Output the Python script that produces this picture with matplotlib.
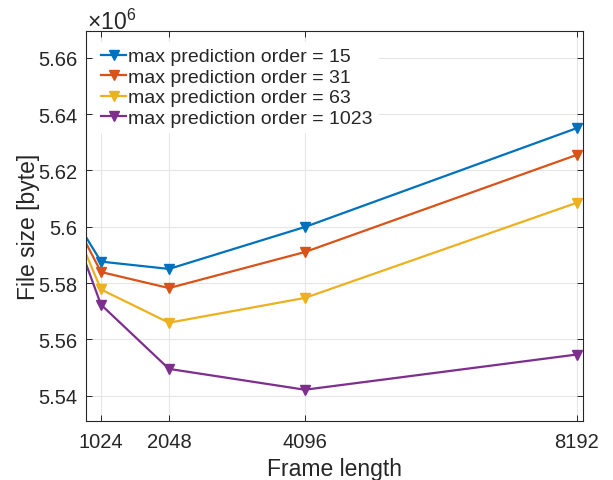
import matplotlib
matplotlib.use("Agg")
import matplotlib.pyplot as plt
from matplotlib.ticker import FuncFormatter

plt.rcParams['font.family'] = ['Liberation Sans', 'DejaVu Sans']
plt.rcParams['mathtext.fontset'] = 'custom'
plt.rcParams['mathtext.rm'] = 'Liberation Sans'

# frame lengths and resulting file sizes in bytes
frame_len = [512, 1024, 2048, 4096, 8192]
order_15 = [5.6073e6, 5.5876e6, 5.5850e6, 5.5999e6, 5.6350e6]
order_31 = [5.6072e6, 5.5839e6, 5.5782e6, 5.5910e6, 5.6255e6]
order_63 = [5.6064e6, 5.5777e6, 5.5659e6, 5.5747e6, 5.6085e6]
order_1023 = [5.6051e6, 5.5723e6, 5.5495e6, 5.5421e6, 5.5546e6]

labels = ['max prediction order = 15', 'max prediction order = 31',
          'max prediction order = 63', 'max prediction order = 1023']
colors = ['#0072BD', '#D95319', '#EDB120', '#7E2F8E']

x_ticks = [1024, 2048, 4096, 8192]
y_ticks = [5.54e6, 5.56e6, 5.58e6, 5.60e6, 5.62e6, 5.64e6, 5.66e6]

axis_col = '#262626'

fig = plt.figure(figsize=(6.13, 4.81), dpi=100)
ax = fig.add_axes([0.1403, 0.1227, 0.951 - 0.1403, 0.9335 - 0.1227])

for ys, lab, c in zip([order_15, order_31, order_63, order_1023], labels, colors):
    ax.plot(frame_len, ys, color=c, lw=1.6, marker='v', ms=6.5,
            mfc=c, mec=c, label=lab, clip_on=True)

ax.set_xlim(798, 8285)
ax.set_ylim(5.531e6, 5.6695e6)
ax.set_xticks(x_ticks)
ax.set_xticklabels([str(t) for t in x_ticks])
ax.set_yticks(y_ticks)
ax.yaxis.set_major_formatter(FuncFormatter(lambda v, p: '%g' % round(v / 1e6, 4)))

ax.grid(True, color='#e6e6e6', lw=0.8)
ax.set_axisbelow(True)
ax.tick_params(direction='in', length=4, width=0.7, colors=axis_col,
               labelsize=14.5, top=True, right=True, pad=6)
ax.tick_params(axis='x', pad=8)
for s in ax.spines.values():
    s.set_color(axis_col)
    s.set_linewidth(0.8)

ax.set_xlabel('Frame length', fontsize=16.5, color=axis_col, labelpad=4)
ax.set_ylabel('File size [byte]', fontsize=16.5, color=axis_col, labelpad=-1)
ax.text(0.002, 1.006, r'$\times10^{6}$', transform=ax.transAxes, fontsize=16.5,
        color=axis_col, ha='left', va='baseline')

leg = ax.legend(loc='upper left', bbox_to_anchor=(0.0185, 0.972), fontsize=14,
                frameon=True, framealpha=1, facecolor='white', edgecolor='none',
                handlelength=1.3, handletextpad=0.1, labelspacing=0.15,
                borderaxespad=0.0, borderpad=0.3)
for t in leg.get_texts():
    t.set_color(axis_col)

fig.savefig('out.png', dpi=100)
